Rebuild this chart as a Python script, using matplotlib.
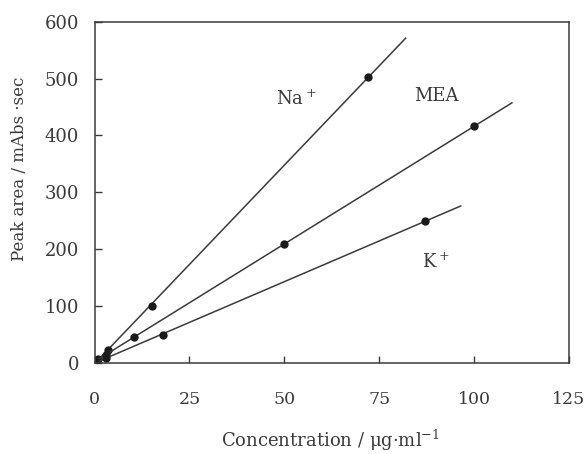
import numpy as np
import matplotlib
matplotlib.use("Agg")
import matplotlib.pyplot as plt

# concentration (ug/ml) and peak area (mAbs*sec)
na_x = [0, 1, 3.5, 15, 72]
na_y = [0, 6, 23, 100, 502]
mea_x = [0, 3, 10.5, 50, 100]
mea_y = [3, 14, 45, 209, 416]
k_x = [0, 3, 18, 87]
k_y = [0, 9, 49, 249]

# how far each fitted line is drawn
na_end = 82
mea_end = 110
k_end = 96.5

series = [
    ("Na$^+$", na_x, na_y, na_end, (53, 463)),
    ("MEA", mea_x, mea_y, mea_end, (90, 470)),
    ("K$^+$", k_x, k_y, k_end, (90, 176)),
]

plt.rcParams["font.family"] = ["DejaVu Serif"]
plt.rcParams["mathtext.fontset"] = "dejavuserif"

ink = "#3a3a3a"
fig = plt.figure(figsize=(5.84, 4.54), dpi=100)
ax = fig.add_axes([0.162, 0.201, 0.812, 0.751])

for name, xs, ys, x_end, pos in series:
    slope, icpt = np.polyfit(xs, ys, 1)
    lx = np.array([0, x_end])
    ax.plot(lx, slope * lx + icpt, color=ink, lw=1.1)
    ax.plot(xs, ys, "o", color="#1a1a1a", ms=5)
    ax.text(pos[0], pos[1], name, fontsize=13, color=ink,
            ha="center", va="center")

ax.set_xlim(0, 125)
ax.set_ylim(0, 600)
ax.set_xticks([0, 25, 50, 75, 100, 125])
ax.set_yticks([0, 100, 200, 300, 400, 500, 600])
ax.tick_params(direction="in", length=5, width=1, colors=ink, labelsize=13)
ax.tick_params(axis="x", pad=20, labelsize=12.5)
ax.tick_params(axis="y", pad=11)
for s in ax.spines.values():
    s.set_color(ink)
    s.set_linewidth(1.1)

ax.set_xlabel("Concentration / μg·ml$^{-1}$", fontsize=13, color=ink)
ax.set_ylabel("Peak area / mAbs ·sec", fontsize=12, color=ink)
ax.xaxis.set_label_coords(0.498, -0.19)
ax.yaxis.set_label_coords(-0.141, 0.568)

fig.savefig("out.png", dpi=100)
